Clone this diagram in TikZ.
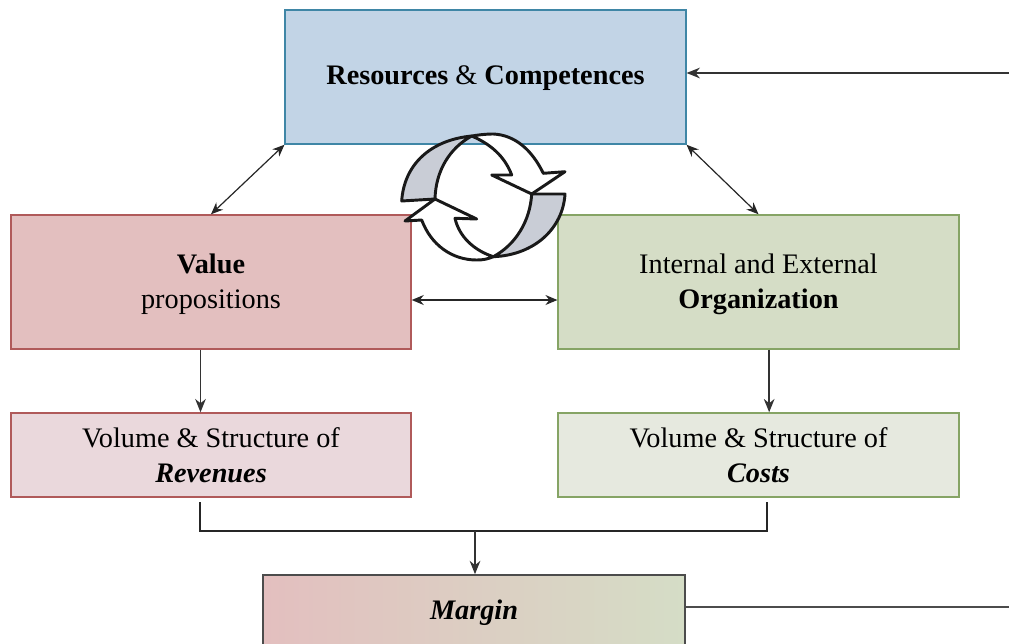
\documentclass[tikz,border=0pt]{standalone}
\usepackage{fontspec}
\setmainfont{Liberation Serif}
\usetikzlibrary{arrows.meta}

\definecolor{res fill}{HTML}{C2D4E6}
\definecolor{res line}{HTML}{3F86A6}
\definecolor{val fill}{HTML}{E3BFBF}
\definecolor{val line}{HTML}{B05A5A}
\definecolor{org fill}{HTML}{D5DDC6}
\definecolor{org line}{HTML}{86A465}
\definecolor{rev fill}{HTML}{EAD8DC}
\definecolor{cost fill}{HTML}{E6E9DF}
\definecolor{swirl fill}{HTML}{C9CDD6}

\tikzset{
  box/.style={draw,line width=1.1pt,inner sep=0pt,align=center,font=\fontsize{21.2}{26}\selectfont},
  flow/.style={line width=1.2pt,draw=black!80,-{Stealth[length=10pt,width=8pt]}},
  both/.style={line width=.9pt,draw=black!85,{Stealth[length=9pt,width=7.5pt]}-{Stealth[length=9pt,width=7.5pt]}},
  swirl/.style={draw=black!90,line width=2.2pt,line join=round}
}

\begin{document}
\begin{tikzpicture}[x=.75pt,y=-.75pt]
  \path[use as bounding box] (0,0) rectangle (1009,643);
  \clip (0,0) rectangle (1009,643);

  \node[box,fill=res fill,draw=res line,minimum width=300.5pt,minimum height=100.5pt,text depth=2.5pt] (resources) at (485.5,77) {\textbf{Resources} \& \textbf{Competences}};
  \node[box,fill=val fill,draw=val line,minimum width=300pt,minimum height=100.5pt] (value) at (211,282) {\rule{0pt}{18pt}\textbf{Value}\\propositions};
  \node[box,fill=org fill,draw=org line,minimum width=300.5pt,minimum height=100.5pt] (organization) at (758.5,282) {\rule{0pt}{18pt}Internal and External\\\textbf{Organization}};
  \node[box,fill=rev fill,draw=val line,minimum width=300pt,minimum height=63pt] (revenues) at (211,455) {Volume \& Structure of\\\textbf{\textit{Revenues}}};
  \node[box,fill=cost fill,draw=org line,minimum width=300.5pt,minimum height=63pt] (costs) at (758.5,455) {Volume \& Structure of\\\textbf{\textit{Costs}}};
  \node[box,left color=val fill,right color=org fill,draw=black!70,line width=1.5pt,minimum width=316pt,minimum height=56pt] (margin) at (474,612.5) {\textbf{\textit{Margin}}};

  \coordinate (top exit) at (1009,73);
  \coordinate (margin exit) at (1009,607);
  \coordinate (rev out) at (200,502);
  \coordinate (cost out) at (767,502);
  \coordinate (left corner) at (200,531);
  \coordinate (right corner) at (767,531);
  \coordinate (join) at (475,531);

  \draw[flow] (top exit) -- (resources.east |- top exit);
  \draw[both] (resources.south west) -- (value.north);
  \draw[both] (resources.south east) -- (organization.north);
  \draw[both] ([yshift=-13.5pt]value.east) -- ([yshift=-13.5pt]organization.west);
  \draw[flow] ([xshift=-7.875pt]value.south) -- ([xshift=-7.875pt]revenues.north);
  \draw[flow] ([xshift=8pt]organization.south) -- ([xshift=8pt]costs.north);

  \draw[line width=1.2pt,draw=black!85] (rev out) -- (left corner) -- (right corner) -- (cost out);
  \draw[flow] (join) -- (join |- margin.north);
  \draw[line width=1.4pt,draw=black!70] (margin.east |- margin exit) -- (margin exit);

  % turning arrows
  \fill[white,swirl] (471.7,136) .. controls (495,146) and (506,160) .. (511.7,175) -- (491.7,175) -- (531.7,194) -- (565,171.7) -- (543.3,173.3) .. controls (532,150) and (515,135) .. (493.3,134) .. controls (485,134) and (478,135) .. cycle;
  \filldraw[fill=swirl fill,swirl] (401.7,201) .. controls (404,165) and (430,140) .. (471.7,136) .. controls (450,148) and (436,170) .. (435,198.3) -- (435,199) -- cycle;
  \fill[white,swirl] (493.3,256.7) .. controls (473,250) and (459,236) .. (455,218.3) -- (476.7,219) -- (435,199) -- (405,221) -- (421.7,220) .. controls (431,245) and (452,260) .. (476.7,260) .. controls (483,260) and (488,259) .. cycle;
  \filldraw[fill=swirl fill,swirl] (531.7,194) -- (565,194) .. controls (563,228) and (535,255) .. (493.3,256.7) .. controls (515,245) and (530,222) .. cycle;
\end{tikzpicture}
\end{document}
